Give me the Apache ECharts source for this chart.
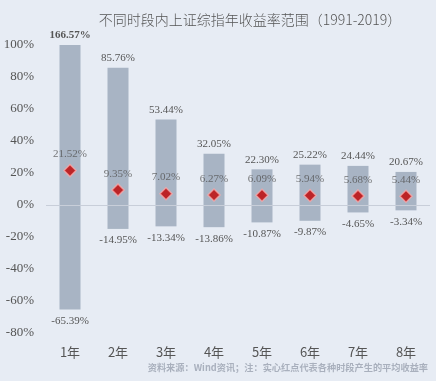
<!DOCTYPE html>
<html><head><meta charset="utf-8">
<script src="https://cdn.jsdelivr.net/npm/echarts@6/dist/echarts.min.js"></script>
<style>html,body{margin:0;padding:0;background:#e7ecf4;}#c{width:436px;height:381px;}</style>
</head><body><div id="c"></div>
<script>
var categories = ['1年','2年','3年','4年','5年','6年','7年','8年'];
var maxReturns = [166.57, 85.76, 53.44, 32.05, 22.30, 25.22, 24.44, 20.67];
var minReturns = [-65.39, -14.95, -13.34, -13.86, -10.87, -9.87, -4.65, -3.34];
var avgReturns = [21.52, 9.35, 7.02, 6.27, 6.09, 5.94, 5.68, 5.44];
var yTicks = [-80, -60, -40, -20, 0, 20, 40, 60, 80, 100];

var yMin = yTicks[0], yMax = yTicks[yTicks.length - 1];
var serif = '"Liberation Serif","DejaVu Serif",serif';
var chart = echarts.init(document.getElementById('c'));
function pct(v){ return v.toFixed(2) + '%'; }
chart.setOption({
  backgroundColor: '#e7ecf4',
  animation: false,
  title: {
    text: '不同时段内上证综指年收益率范围（1991-2019）',
    left: 245, top: 8, textAlign: 'center',
    textStyle: { fontFamily: '"Noto Sans CJK SC",' + serif, fontSize: 14, fontWeight: 300, color: '#555' }
  },
  graphic: [{
    type: 'text', right: 8, top: 363,
    style: { text: '资料来源：Wind资讯；注：实心红点代表各种时段产生的平均收益率',
      font: 'bold 9.2px "Noto Sans CJK SC", serif', fill: '#a9b0bd' }
  }],
  grid: { left: 46, right: 6, top: 45, bottom: 48 },
  xAxis: {
    type: 'category', data: categories,
    axisLine: { show: false }, axisTick: { show: false },
    axisLabel: { color: '#555', fontSize: 13, fontFamily: '"Noto Sans CJK SC",' + serif, margin: 13 }
  },
  yAxis: {
    type: 'value', min: yMin, max: yMax, interval: 20,
    splitLine: { show: false },
    axisLine: { show: false }, axisTick: { show: false },
    axisLabel: { color: '#555', fontSize: 13, fontFamily: serif, margin: 12, formatter: function(v){ return v + '%'; } }
  },
  series: [
    {
      type: 'bar', stack: 'r', barWidth: 21,
      data: maxReturns.map(function(v, i){
        var o = { value: Math.min(v, yMax) };
        if (i === 0) o.label = { fontWeight: 'bold' };
        return o;
      }),
      itemStyle: { color: '#a8b4c4' },
      label: { show: true, position: 'top', distance: 4, color: '#555', fontSize: 11, fontFamily: serif,
        formatter: function(p){ return pct(maxReturns[p.dataIndex]); } },
      markLine: { silent: true, symbol: 'none', label: { show: false },
        lineStyle: { color: '#c8ced9', width: 1, type: 'solid' }, data: [{ yAxis: 0 }] },
      z: 2
    },
    {
      type: 'bar', stack: 'r', barWidth: 21,
      data: minReturns,
      itemStyle: { color: '#a8b4c4' },
      label: { show: true, position: 'bottom', distance: 6, color: '#555', fontSize: 11, fontFamily: serif,
        formatter: function(p){ return pct(p.value); } },
      z: 2
    },
    {
      type: 'scatter', symbol: 'diamond', symbolSize: 12,
      data: avgReturns,
      itemStyle: { color: '#c00000', borderColor: 'rgba(255,170,170,0.9)', borderWidth: 1.5 },
      label: { show: true, position: 'top', distance: 4, color: '#555', fontSize: 11, fontFamily: serif,
        formatter: function(p){ return pct(p.value); } },
      z: 5
    }
  ]
});
</script></body></html>
